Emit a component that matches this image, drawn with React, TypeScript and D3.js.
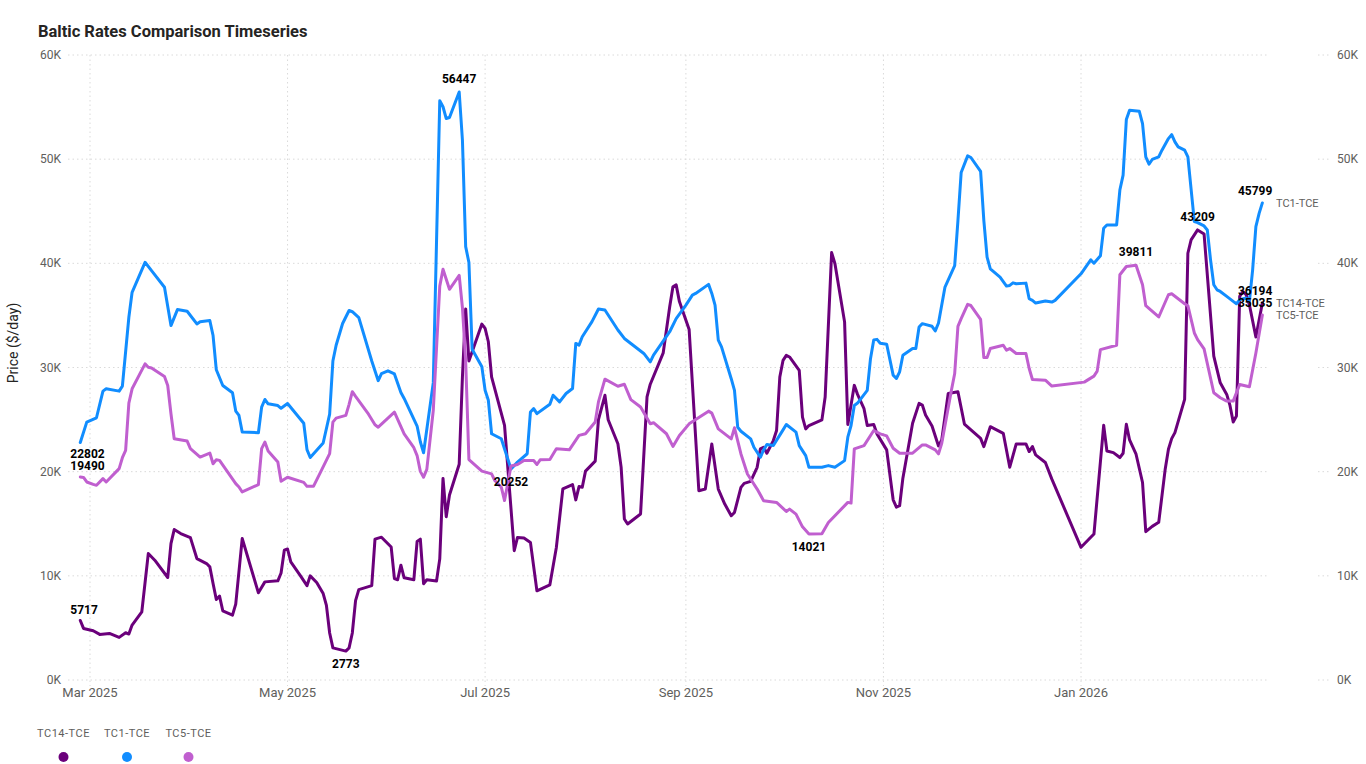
import React from 'react';
import * as d3 from 'd3';

type Pt = [string, number];

// legend order
const seriesNames = ['TC14-TCE', 'TC1-TCE', 'TC5-TCE'];
const seriesColors = ['#6B007B', '#118DFF', '#C05FCF'];

const tc14Data: Pt[] = [
  ['2025-02-26', 5717], ['2025-02-27', 4950], ['2025-03-02', 4730], ['2025-03-04', 4375], ['2025-03-07', 4470],
  ['2025-03-10', 4090], ['2025-03-12', 4535], ['2025-03-13', 4410], ['2025-03-14', 5270], ['2025-03-17', 6550],
  ['2025-03-19', 12140], ['2025-03-21', 11500], ['2025-03-25', 9840], ['2025-03-26', 13100], ['2025-03-27', 14440],
  ['2025-03-29', 14060], ['2025-04-01', 13670], ['2025-04-03', 11660], ['2025-04-06', 11180], ['2025-04-07', 10860],
  ['2025-04-08', 9265], ['2025-04-09', 7730], ['2025-04-10', 8050], ['2025-04-11', 6645], ['2025-04-14', 6230],
  ['2025-04-15', 7285], ['2025-04-17', 13580], ['2025-04-22', 8370], ['2025-04-24', 9420], ['2025-04-28', 9520],
  ['2025-04-29', 10270], ['2025-04-30', 12460], ['2025-05-01', 12575], ['2025-05-02', 11330], ['2025-05-05', 10000],
  ['2025-05-07', 9055], ['2025-05-08', 10000], ['2025-05-10', 9360], ['2025-05-12', 8300], ['2025-05-13', 7165],
  ['2025-05-14', 4515], ['2025-05-15', 3080], ['2025-05-19', 2773], ['2025-05-20', 3080], ['2025-05-21', 4515],
  ['2025-05-22', 7620], ['2025-05-23', 8680], ['2025-05-27', 9055], ['2025-05-28', 13520], ['2025-05-30', 13710],
  ['2025-06-02', 12765], ['2025-06-03', 9740], ['2025-06-04', 9625], ['2025-06-05', 11025], ['2025-06-06', 9815],
  ['2025-06-09', 9625], ['2025-06-10', 13295], ['2025-06-11', 13520], ['2025-06-12', 9245], ['2025-06-13', 9625],
  ['2025-06-16', 9510], ['2025-06-17', 11630], ['2025-06-18', 19350], ['2025-06-19', 15680], ['2025-06-20', 17760],
  ['2025-06-23', 20710], ['2025-06-24', 29110], ['2025-06-25', 35620], ['2025-06-26', 30625], ['2025-06-30', 34170],
  ['2025-07-01', 33755], ['2025-07-02', 32470], ['2025-07-03', 29100], ['2025-07-07', 24445], ['2025-07-10', 12410],
  ['2025-07-11', 13690], ['2025-07-13', 13630], ['2025-07-15', 13210], ['2025-07-17', 8560], ['2025-07-21', 9135],
  ['2025-07-23', 12730], ['2025-07-25', 18350], ['2025-07-28', 18765], ['2025-07-29', 17290], ['2025-07-30', 18570],
  ['2025-07-31', 18510], ['2025-08-01', 20050], ['2025-08-04', 21010], ['2025-08-05', 24990], ['2025-08-07', 27335],
  ['2025-08-08', 24990], ['2025-08-11', 22680], ['2025-08-12', 20435], ['2025-08-13', 15460], ['2025-08-14', 14980],
  ['2025-08-18', 15940], ['2025-08-20', 27175], ['2025-08-21', 28395], ['2025-08-25', 31410], ['2025-08-27', 35840],
  ['2025-08-28', 37750], ['2025-08-29', 37930], ['2025-08-30', 36325], ['2025-09-02', 33640], ['2025-09-05', 18170],
  ['2025-09-07', 18330], ['2025-09-09', 22665], ['2025-09-11', 18330], ['2025-09-13', 16890], ['2025-09-15', 15765],
  ['2025-09-16', 16085], ['2025-09-18', 18490], ['2025-09-19', 18880], ['2025-09-21', 19070], ['2025-09-23', 20420],
  ['2025-09-24', 22185], ['2025-09-25', 22345], ['2025-09-26', 21765], ['2025-09-28', 22985], ['2025-09-29', 23950],
  ['2025-09-30', 29085], ['2025-10-01', 30690], ['2025-10-02', 31170], ['2025-10-03', 31010], ['2025-10-06', 29725],
  ['2025-10-07', 25235], ['2025-10-08', 24110], ['2025-10-09', 24430], ['2025-10-13', 24975], ['2025-10-14', 27160],
  ['2025-10-16', 41030], ['2025-10-17', 40000], ['2025-10-20', 34380], ['2025-10-21', 24525], ['2025-10-23', 28285],
  ['2025-10-24', 27420], ['2025-10-26', 26045], ['2025-10-27', 24430], ['2025-10-29', 24525], ['2025-10-30', 23630],
  ['2025-11-02', 22090], ['2025-11-04', 17300], ['2025-11-05', 16600], ['2025-11-06', 16730], ['2025-11-07', 19375],
  ['2025-11-10', 24640], ['2025-11-12', 26555], ['2025-11-13', 26395], ['2025-11-14', 25435], ['2025-11-16', 24385],
  ['2025-11-18', 22470], ['2025-11-19', 23045], ['2025-11-21', 27510], ['2025-11-24', 27670], ['2025-11-26', 24575],
  ['2025-12-01', 23200], ['2025-12-02', 22405], ['2025-12-04', 24320], ['2025-12-08', 23680], ['2025-12-10', 20430],
  ['2025-12-12', 22660], ['2025-12-15', 22660], ['2025-12-16', 21930], ['2025-12-17', 22405], ['2025-12-18', 21610],
  ['2025-12-21', 20875], ['2025-12-23', 19280], ['2026-01-01', 12740], ['2026-01-05', 14015], ['2026-01-08', 24450],
  ['2026-01-09', 21990], ['2026-01-11', 21830], ['2026-01-13', 21355], ['2026-01-14', 21770], ['2026-01-15', 24545],
  ['2026-01-16', 23045], ['2026-01-18', 21675], ['2026-01-20', 18960], ['2026-01-21', 14240], ['2026-01-23', 14750],
  ['2026-01-25', 15135], ['2026-01-27', 20240], ['2026-01-28', 22150], ['2026-01-29', 23170], ['2026-01-30', 23745],
  ['2026-02-02', 26935], ['2026-02-03', 40970], ['2026-02-04', 42250], ['2026-02-06', 43209], ['2026-02-08', 42820],
  ['2026-02-11', 31085], ['2026-02-13', 28530], ['2026-02-15', 27415], ['2026-02-16', 26360], ['2026-02-17', 24770],
  ['2026-02-18', 25340], ['2026-02-19', 36825], ['2026-02-20', 37300], ['2026-02-21', 36985], ['2026-02-22', 36030],
  ['2026-02-24', 32935], ['2026-02-26', 36194],
];

const tc1Data: Pt[] = [
  ['2025-02-26', 22802], ['2025-02-28', 24760], ['2025-03-03', 25175], ['2025-03-05', 27730], ['2025-03-06', 27955],
  ['2025-03-10', 27730], ['2025-03-11', 28210], ['2025-03-13', 34824], ['2025-03-14', 37220], ['2025-03-18', 40100],
  ['2025-03-20', 39300], ['2025-03-24', 37700], ['2025-03-26', 34025], ['2025-03-28', 35560], ['2025-03-31', 35400],
  ['2025-04-03', 34185], ['2025-04-04', 34400], ['2025-04-07', 34505], ['2025-04-08', 33070], ['2025-04-09', 29780],
  ['2025-04-11', 28275], ['2025-04-14', 27570], ['2025-04-15', 25815], ['2025-04-16', 25400], ['2025-04-17', 23800],
  ['2025-04-22', 23740], ['2025-04-23', 26200], ['2025-04-24', 26930], ['2025-04-25', 26515], ['2025-04-28', 26350],
  ['2025-04-29', 26085], ['2025-05-01', 26540], ['2025-05-06', 24650], ['2025-05-07', 22110], ['2025-05-08', 21355],
  ['2025-05-12', 22755], ['2025-05-14', 25520], ['2025-05-15', 30625], ['2025-05-16', 32140], ['2025-05-18', 34220],
  ['2025-05-20', 35470], ['2025-05-21', 35355], ['2025-05-23', 34790], ['2025-05-27', 30625], ['2025-05-29', 28735],
  ['2025-05-30', 29415], ['2025-06-01', 29680], ['2025-06-03', 29380], ['2025-06-05', 27600], ['2025-06-06', 27030],
  ['2025-06-10', 24380], ['2025-06-11', 22870], ['2025-06-12', 21810], ['2025-06-15', 28545], ['2025-06-17', 55600],
  ['2025-06-18', 55030], ['2025-06-19', 53900], ['2025-06-20', 54000], ['2025-06-23', 56447], ['2025-06-24', 51816],
  ['2025-06-25', 41600], ['2025-06-26', 40086], ['2025-06-27', 31760], ['2025-06-30', 30064], ['2025-07-01', 27820],
  ['2025-07-02', 26850], ['2025-07-03', 23640], ['2025-07-06', 23160], ['2025-07-09', 20252], ['2025-07-11', 20915],
  ['2025-07-14', 21720], ['2025-07-15', 25730], ['2025-07-16', 26050], ['2025-07-17', 25570], ['2025-07-21', 26470],
  ['2025-07-22', 27340], ['2025-07-24', 26700], ['2025-07-26', 27500], ['2025-07-28', 27980], ['2025-07-29', 32310],
  ['2025-07-30', 32150], ['2025-07-31', 32950], ['2025-08-03', 34400], ['2025-08-05', 35620], ['2025-08-07', 35520],
  ['2025-08-11', 33600], ['2025-08-13', 32790], ['2025-08-15', 32310], ['2025-08-19', 31350], ['2025-08-21', 30545],
  ['2025-08-22', 31190], ['2025-08-27', 33435], ['2025-08-29', 34700], ['2025-09-01', 35990], ['2025-09-03', 36950],
  ['2025-09-04', 37110], ['2025-09-08', 37980], ['2025-09-09', 37110], ['2025-09-10', 35990], ['2025-09-11', 32620],
  ['2025-09-12', 31975], ['2025-09-15', 28925], ['2025-09-16', 27800], ['2025-09-17', 24270], ['2025-09-18', 23885],
  ['2025-09-21', 23150], ['2025-09-22', 22345], ['2025-09-24', 21380], ['2025-09-25', 22090], ['2025-09-26', 22600],
  ['2025-09-28', 22505], ['2025-10-01', 24015], ['2025-10-02', 24530], ['2025-10-05', 23790], ['2025-10-06', 22505],
  ['2025-10-08', 21540], ['2025-10-09', 20420], ['2025-10-13', 20420], ['2025-10-15', 20580], ['2025-10-17', 20420],
  ['2025-10-20', 21060], ['2025-10-21', 23310], ['2025-10-22', 24430], ['2025-10-23', 26360], ['2025-10-24', 26585],
  ['2025-10-27', 27800], ['2025-10-28', 30850], ['2025-10-29', 32650], ['2025-10-30', 32700], ['2025-10-31', 32330],
  ['2025-11-02', 32230], ['2025-11-04', 29265], ['2025-11-05', 28945], ['2025-11-06', 29585], ['2025-11-07', 31180],
  ['2025-11-10', 31820], ['2025-11-11', 31820], ['2025-11-12', 33890], ['2025-11-13', 34210], ['2025-11-16', 33955],
  ['2025-11-17', 33510], ['2025-11-18', 34275], ['2025-11-20', 37720], ['2025-11-23', 39790], ['2025-11-24', 44100],
  ['2025-11-25', 48725], ['2025-11-27', 50320], ['2025-11-28', 50160], ['2025-12-01', 48820], ['2025-12-02', 44100],
  ['2025-12-03', 40590], ['2025-12-04', 39470], ['2025-12-07', 38675], ['2025-12-09', 37815], ['2025-12-10', 37880],
  ['2025-12-11', 38130], ['2025-12-12', 38035], ['2025-12-15', 38100], ['2025-12-16', 36600], ['2025-12-17', 36440],
  ['2025-12-18', 36185], ['2025-12-21', 36375], ['2025-12-23', 36280], ['2025-12-24', 36440], ['2026-01-01', 38995],
  ['2026-01-04', 40335], ['2026-01-05', 40015], ['2026-01-07', 40720], ['2026-01-08', 43365], ['2026-01-09', 43685],
  ['2026-01-12', 43685], ['2026-01-13', 47035], ['2026-01-14', 48470], ['2026-01-15', 53800], ['2026-01-16', 54690],
  ['2026-01-19', 54595], ['2026-01-20', 53415], ['2026-01-21', 50225], ['2026-01-22', 49520], ['2026-01-23', 49970],
  ['2026-01-25', 50225], ['2026-01-26', 50860], ['2026-01-28', 51975], ['2026-01-29', 52360], ['2026-01-30', 51660],
  ['2026-01-31', 51180], ['2026-02-02', 50860], ['2026-02-03', 50225], ['2026-02-05', 44000], ['2026-02-06', 43905],
  ['2026-02-08', 43590], ['2026-02-09', 43205], ['2026-02-10', 40335], ['2026-02-11', 37940], ['2026-02-12', 37460],
  ['2026-02-13', 37300], ['2026-02-15', 36825], ['2026-02-17', 36350], ['2026-02-18', 36125], ['2026-02-19', 36510],
  ['2026-02-21', 36665], ['2026-02-22', 36350], ['2026-02-23', 39380], ['2026-02-24', 43525], ['2026-02-25', 44800],
  ['2026-02-26', 45799],
];

const tc5Data: Pt[] = [
  ['2025-02-26', 19490], ['2025-02-27', 19450], ['2025-02-28', 19010], ['2025-03-02', 18785], ['2025-03-03', 18690],
  ['2025-03-05', 19330], ['2025-03-06', 19010], ['2025-03-10', 20290], ['2025-03-11', 21340], ['2025-03-12', 22045],
  ['2025-03-13', 26580], ['2025-03-14', 27955], ['2025-03-18', 30350], ['2025-03-19', 30030], ['2025-03-20', 29950],
  ['2025-03-24', 29135], ['2025-03-25', 28275], ['2025-03-26', 25560], ['2025-03-27', 23165], ['2025-03-31', 22940],
  ['2025-04-01', 22205], ['2025-04-04', 21405], ['2025-04-07', 21790], ['2025-04-08', 20765], ['2025-04-09', 21150],
  ['2025-04-10', 21085], ['2025-04-15', 18850], ['2025-04-16', 18530], ['2025-04-17', 18050], ['2025-04-22', 18755],
  ['2025-04-23', 22205], ['2025-04-24', 22845], ['2025-04-25', 21980], ['2025-04-28', 20925], ['2025-04-29', 19085],
  ['2025-05-01', 19465], ['2025-05-06', 18970], ['2025-05-07', 18590], ['2025-05-09', 18590], ['2025-05-11', 19840],
  ['2025-05-14', 21730], ['2025-05-15', 24760], ['2025-05-16', 25140], ['2025-05-19', 25405], ['2025-05-20', 26465],
  ['2025-05-21', 27675], ['2025-05-22', 27220], ['2025-05-26', 25520], ['2025-05-28', 24500], ['2025-05-29', 24270],
  ['2025-06-03', 25710], ['2025-06-04', 25025], ['2025-06-06', 23625], ['2025-06-09', 22300], ['2025-06-10', 21545],
  ['2025-06-11', 20030], ['2025-06-12', 19465], ['2025-06-13', 20220], ['2025-06-15', 25895], ['2025-06-17', 37815],
  ['2025-06-18', 39440], ['2025-06-20', 37510], ['2025-06-23', 38840], ['2025-06-24', 35735], ['2025-06-25', 30625],
  ['2025-06-26', 21165], ['2025-06-30', 20050], ['2025-07-03', 19790], ['2025-07-04', 19150], ['2025-07-06', 18510],
  ['2025-07-07', 17225], ['2025-07-09', 20550], ['2025-07-11', 20690], ['2025-07-13', 21075], ['2025-07-16', 21075],
  ['2025-07-17', 20690], ['2025-07-18', 21140], ['2025-07-21', 21170], ['2025-07-23', 22200], ['2025-07-27', 22100],
  ['2025-07-30', 23480], ['2025-08-01', 23640], ['2025-08-04', 24770], ['2025-08-05', 26700], ['2025-08-07', 28880],
  ['2025-08-11', 28200], ['2025-08-13', 28395], ['2025-08-15', 26920], ['2025-08-18', 26210], ['2025-08-21', 24605],
  ['2025-08-22', 24700], ['2025-08-26', 23640], ['2025-08-28', 22425], ['2025-08-30', 23480], ['2025-09-02', 24590],
  ['2025-09-08', 25810], ['2025-09-09', 25620], ['2025-09-11', 24110], ['2025-09-15', 23150], ['2025-09-16', 24210],
  ['2025-09-18', 21700], ['2025-09-20', 19775], ['2025-09-23', 18330], ['2025-09-25', 17210], ['2025-09-29', 17050],
  ['2025-10-02', 16180], ['2025-10-03', 16405], ['2025-10-05', 15925], ['2025-10-07', 14705], ['2025-10-09', 14021],
  ['2025-10-13', 14050], ['2025-10-15', 15125], ['2025-10-21', 17050], ['2025-10-22', 16985], ['2025-10-23', 22185],
  ['2025-10-26', 22505], ['2025-10-29', 23950], ['2025-10-31', 23630], ['2025-11-02', 23430], ['2025-11-04', 22250],
  ['2025-11-06', 21770], ['2025-11-10', 21770], ['2025-11-13', 22565], ['2025-11-14', 22565], ['2025-11-17', 22090],
  ['2025-11-18', 21705], ['2025-11-19', 22725], ['2025-11-22', 27830], ['2025-11-23', 29425], ['2025-11-24', 33955],
  ['2025-11-25', 34690], ['2025-11-27', 36060], ['2025-11-28', 35950], ['2025-12-01', 34625], ['2025-12-02', 30955],
  ['2025-12-03', 30955], ['2025-12-04', 31820], ['2025-12-08', 32135], ['2025-12-09', 31660], ['2025-12-10', 31820],
  ['2025-12-12', 31340], ['2025-12-15', 31340], ['2025-12-16', 29905], ['2025-12-17', 28850], ['2025-12-21', 28785],
  ['2025-12-23', 28215], ['2026-01-02', 28595], ['2026-01-05', 29170], ['2026-01-06', 29650], ['2026-01-07', 31720],
  ['2026-01-12', 32135], ['2026-01-13', 38900], ['2026-01-15', 39700], ['2026-01-18', 39811], ['2026-01-20', 37940],
  ['2026-01-21', 35935], ['2026-01-25', 34850], ['2026-01-28', 36985], ['2026-01-29', 37080], ['2026-02-02', 36125],
  ['2026-02-03', 35935], ['2026-02-05', 33315], ['2026-02-06', 32680], ['2026-02-08', 31785], ['2026-02-11', 27575],
  ['2026-02-13', 27095], ['2026-02-15', 26775], ['2026-02-17', 26775], ['2026-02-19', 28370], ['2026-02-22', 28150],
  ['2026-02-24', 31400], ['2026-02-26', 35035],
];

const yTicks = [0, 10000, 20000, 30000, 40000, 50000, 60000];
const xTickDates = ['2025-03-01', '2025-05-01', '2025-07-01', '2025-09-01', '2025-11-01', '2026-01-01'];
const xTickLabels = ['Mar 2025', 'May 2025', 'Jul 2025', 'Sep 2025', 'Nov 2025', 'Jan 2026'];

const FONT = 'Roboto, "Noto Sans", sans-serif';
const parse = d3.timeParse('%Y-%m-%d');

const x = d3.scaleTime()
  .domain([parse('2025-03-01') as Date, parse('2026-01-01') as Date])
  .range([90, 1081]);
const y = d3.scaleLinear().domain([0, 60000]).range([680, 55]);

const allSeries = [tc14Data, tc1Data, tc5Data].map((data, i) => ({
  name: seriesNames[i],
  color: seriesColors[i],
  points: data.map(([d, v]) => ({ date: parse(d) as Date, value: v })),
}));

const line = d3.line<{ date: Date; value: number }>()
  .x(d => x(d.date))
  .y(d => y(d.value));

const fmtK = (v: number) => `${v / 1000}K`;

export default function App() {
  const gridX0 = 68;
  const gridX1 = 1268;

  // first / max / min / last labels, like Power BI
  const labels: { x: number; y: number; text: string; anchor: string }[] = [];
  allSeries.forEach(s => {
    const pts = s.points;
    const iMax = d3.maxIndex(pts, p => p.value);
    const iMin = d3.minIndex(pts, p => p.value);
    const first = pts[0];
    const last = pts[pts.length - 1];
    const firstBelow = s.name === 'TC1-TCE';
    labels.push({ x: x(first.date) - 10, y: y(first.value) + (firstBelow ? 16 : -6.5), text: String(first.value), anchor: 'start' });
    labels.push({ x: x(pts[iMax].date), y: y(pts[iMax].value) - 9, text: String(pts[iMax].value), anchor: 'middle' });
    labels.push({ x: x(pts[iMin].date), y: y(pts[iMin].value) + 17, text: String(pts[iMin].value), anchor: 'middle' });
    labels.push({ x: x(last.date) + 10, y: y(last.value) - 8, text: String(last.value), anchor: 'end' });
  });

  const legendX = [63.5, 127, 188.5];

  return (
    <svg width={1366} height={764} style={{ position: 'absolute', left: 0, top: 0, background: '#fff' }}>
      <text x={38} y={37} fontFamily={FONT} fontWeight={700} fontSize={16.5} fill="#252423">
        Baltic Rates Comparison Timeseries
      </text>

      {/* gridlines */}
      {yTicks.map(t => (
        <g key={`gy${t}`}>
          <line x1={gridX0} x2={gridX1} y1={y(t)} y2={y(t)} stroke="#DADADA" strokeDasharray="1.5,3" />
          <line x1={1318} x2={1330} y1={y(t)} y2={y(t)} stroke="#DADADA" strokeDasharray="1.5,3" />
        </g>
      ))}
      {xTickDates.map(d => (
        <line key={`gx${d}`} x1={x(parse(d) as Date)} x2={x(parse(d) as Date)} y1={y(60000)} y2={686}
          stroke="#DADADA" strokeDasharray="1.5,3" />
      ))}

      {/* left axis */}
      {yTicks.map(t => (
        <text key={`ly${t}`} x={61} y={y(t) + 4} textAnchor="end" fontFamily={FONT} fontSize={12} fill="#605E5C">
          {fmtK(t)}
        </text>
      ))}
      {/* right axis */}
      {yTicks.map(t => (
        <text key={`ry${t}`} x={1337} y={y(t) + 4} textAnchor="start" fontFamily={FONT} fontSize={12} fill="#605E5C">
          {fmtK(t)}
        </text>
      ))}
      <text transform={`translate(18,343) rotate(-90)`} textAnchor="middle" fontFamily={FONT} fontSize={14} fill="#252423">
        Price ($/day)
      </text>

      {/* x axis */}
      {xTickDates.map((d, i) => (
        <text key={`xl${d}`} x={x(parse(d) as Date)} y={697} textAnchor="middle" fontFamily={FONT} fontSize={13} fill="#605E5C">
          {xTickLabels[i]}
        </text>
      ))}

      {/* lines */}
      {allSeries.map(s => (
        <path key={s.name} d={line(s.points) || ''} fill="none" stroke={s.color} strokeWidth={3}
          strokeLinejoin="round" strokeLinecap="round" />
      ))}

      {/* data labels */}
      {labels.map((l, i) => (
        <text key={`dl${i}`} x={l.x} y={l.y} textAnchor={l.anchor as any} fontFamily={FONT} fontWeight={700}
          fontSize={12} fill="#000">
          {l.text}
        </text>
      ))}

      {/* series end names */}
      {allSeries.map(s => {
        const last = s.points[s.points.length - 1];
        return (
          <text key={`en${s.name}`} x={1276} y={y(last.value) + 4} fontFamily={FONT} fontSize={11} fill="#605E5C">
            {s.name}
          </text>
        );
      })}

      {/* legend */}
      {allSeries.map((s, i) => (
        <g key={`lg${s.name}`}>
          <text x={legendX[i]} y={737} textAnchor="middle" fontFamily={FONT} fontSize={11} letterSpacing={0.5} fill="#605E5C">
            {s.name}
          </text>
          <circle cx={legendX[i]} cy={757} r={5} fill={s.color} />
        </g>
      ))}
    </svg>
  );
}
